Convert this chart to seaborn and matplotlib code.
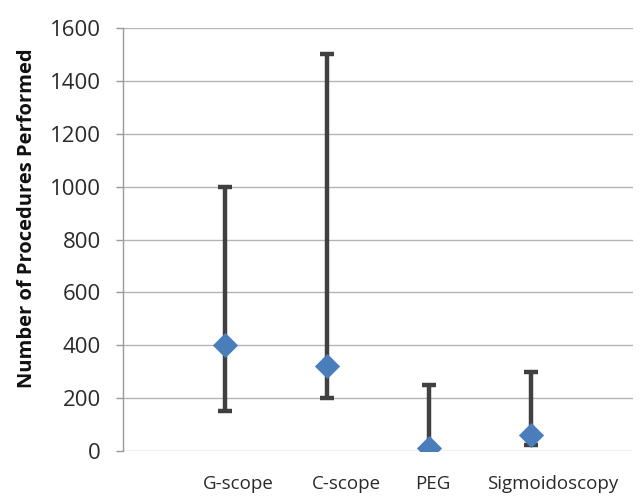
import numpy as np
import pandas as pd
import matplotlib
matplotlib.use("Agg")
import matplotlib.pyplot as plt
import seaborn as sns

categories = ["G-scope", "C-scope", "PEG", "Sigmoidoscopy"]
median_vals = [400, 320, 12, 60]
low_vals = [150, 200, 12, 23]
high_vals = [1000, 1500, 250, 300]
y_ticks = [0, 200, 400, 600, 800, 1000, 1200, 1400, 1600]
label_shift = [0.13, 0.19, 0.04, 0.21]

sns.set_theme(style="white")
plt.rcParams["font.family"] = ["Open Sans", "DejaVu Sans"]

fig = plt.figure(figsize=(6.4, 4.99), dpi=100)
ax = fig.add_axes([0.192, 0.096, 0.797, 0.848])

xpos = np.arange(1, len(categories) + 1)
df = pd.DataFrame({"x": xpos, "cat": categories, "mid": median_vals,
                   "low": low_vals, "high": high_vals})

mid = np.array(median_vals)
ax.errorbar(df["x"], df["mid"],
            yerr=[mid - np.array(low_vals), np.array(high_vals) - mid],
            fmt="none", ecolor="#404040", elinewidth=3.2, capsize=5,
            capthick=3.2, zorder=3)
sns.scatterplot(data=df, x="x", y="mid", marker="D", s=165,
                color="#4A7EBB", edgecolor="#4A7EBB", linewidth=0, ax=ax,
                zorder=4)

ax.set_xlim(0, 5)
ax.set_ylim(0, 1600)
ax.set_yticks(y_ticks)
ax.set_yticklabels([str(v) for v in y_ticks], fontsize=16, color="#2a2a2a")
ax.set_xticks(xpos + np.array(label_shift))
ax.set_xticklabels(categories, fontsize=13.5, color="#2a2a2a")

ax.grid(axis="y", color="#b4b4b4", linewidth=1)
ax.set_axisbelow(True)
for s in ["top", "right", "bottom"]:
    ax.spines[s].set_visible(False)
ax.spines["left"].set_color("#9a9a9a")
ax.spines["left"].set_linewidth(1)
ax.tick_params(axis="y", length=5, width=1, color="#9a9a9a", pad=11, left=True)
ax.tick_params(axis="x", length=0, pad=17)

ax.set_xlabel("")
ax.set_ylabel("Number of Procedures Performed", fontsize=14.5, fontweight="bold",
              color="#111111")
ax.yaxis.set_label_coords(-0.168, 0.55)

fig.savefig("out.png", dpi=100)
